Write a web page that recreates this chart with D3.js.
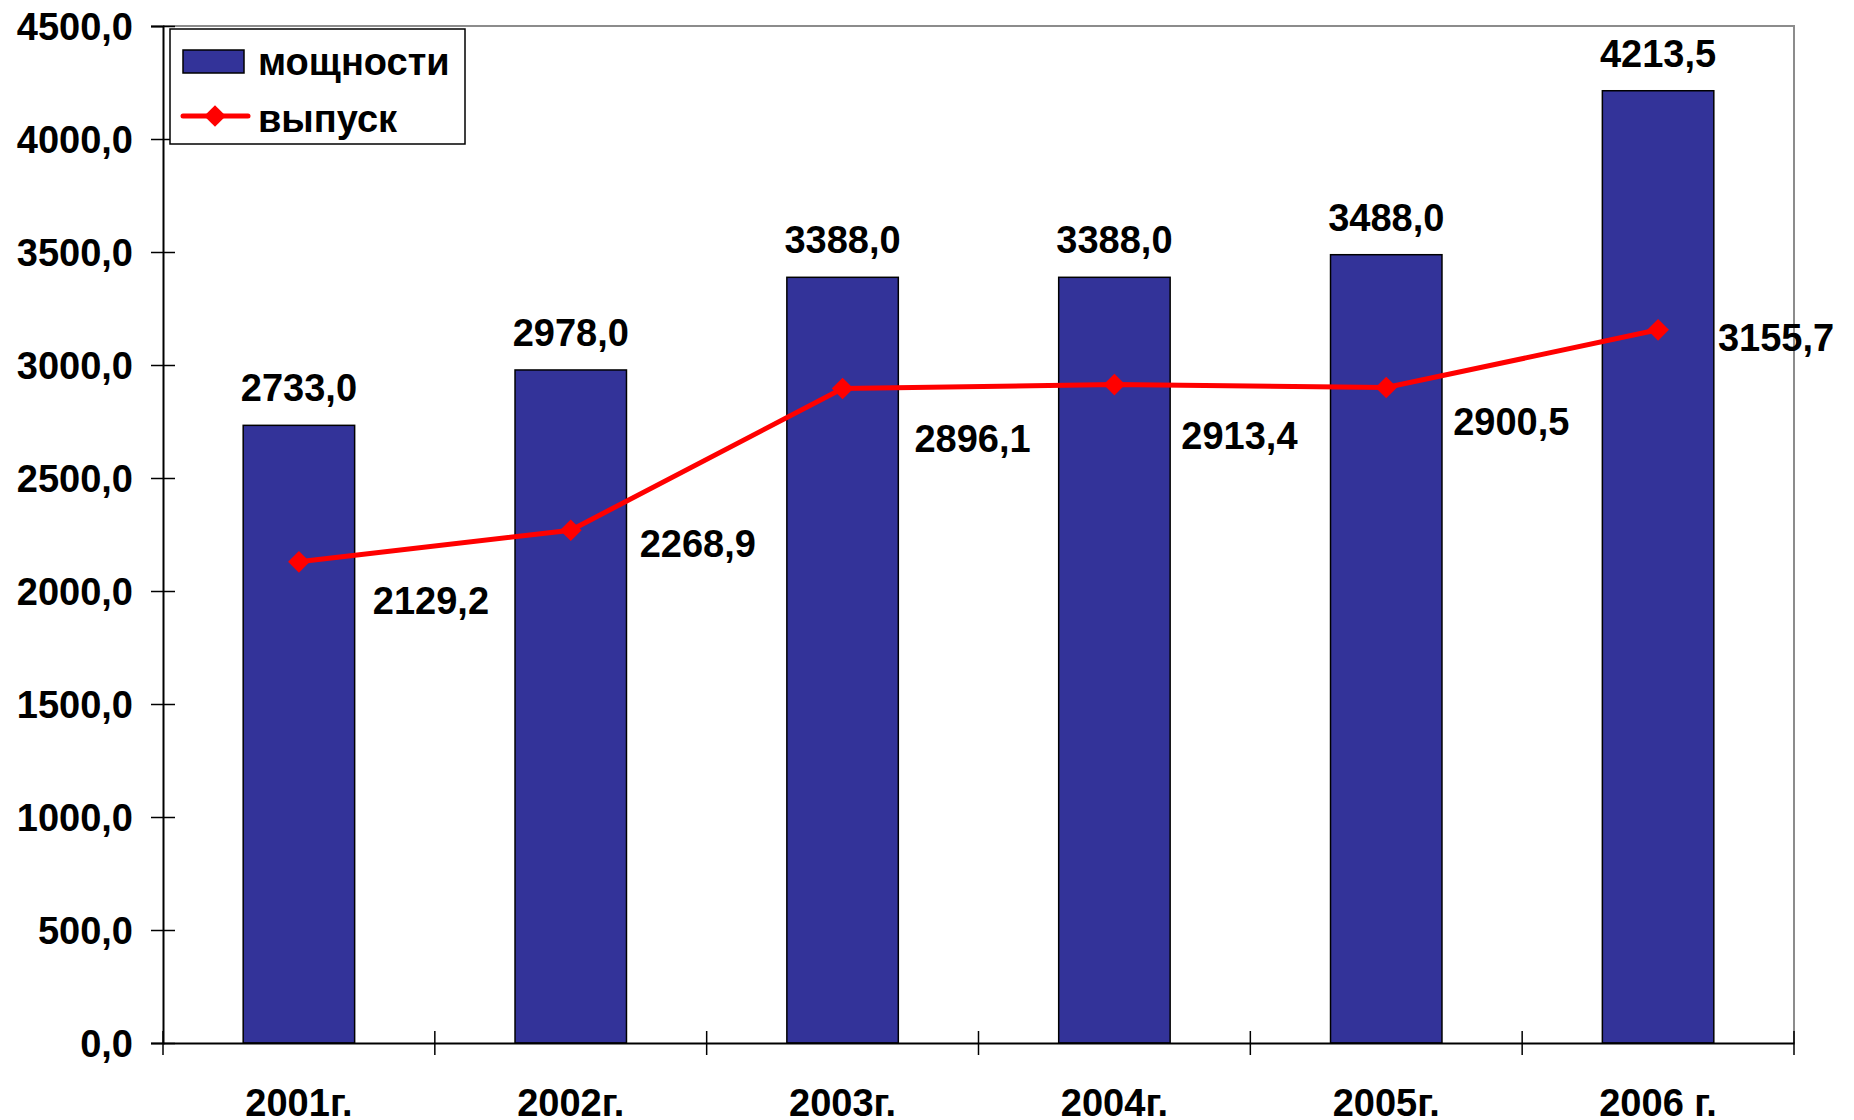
<!DOCTYPE html>
<html>
<head>
<meta charset="utf-8">
<script src="https://cdn.jsdelivr.net/npm/d3@7"></script>
<style>
  body { margin: 0; background: #fff; }
  text { font-family: "Liberation Sans", Arial, Helvetica, sans-serif; font-weight: bold; fill: #000; }
</style>
</head>
<body>
<script>
var w = 1854;
var h = 1120;

// data
var years = ["2001г.", "2002г.", "2003г.", "2004г.", "2005г.", "2006 г."];
var capacity = [2733.0, 2978.0, 3388.0, 3388.0, 3488.0, 4213.5];
var output = [2129.2, 2268.9, 2896.1, 2913.4, 2900.5, 3155.7];
var yTicks = [0, 500, 1000, 1500, 2000, 2500, 3000, 3500, 4000, 4500];
var seriesNames = ["мощности", "выпуск"];

// label nudges for the line values (px, layout only)
var outLabelShift = [[132, 39], [127, 13], [130, 50], [125, 51], [125, 34], [118, 8]];

var plotLeft = 163, plotRight = 1794, plotTop = 26, plotBottom = 1043;
var fs = 38;
var fmt = function(v) { return v.toFixed(1).replace(".", ","); };

var svg = d3.select("body").append("svg")
    .attr("width", w)
    .attr("height", h);

var xScale = d3.scaleBand()
    .domain(years)
    .range([plotLeft, plotRight])
    .padding(0);

var yScale = d3.scaleLinear()
    .domain([0, 4500])
    .range([plotBottom, plotTop]);

var barW = xScale.bandwidth() * 0.41;
var cx = function(i) { return xScale(years[i]) + xScale.bandwidth() / 2; };

// top & right frame (gray)
svg.append("path")
    .attr("d", "M" + plotLeft + "," + plotTop + "H" + plotRight + "V" + plotBottom)
    .attr("fill", "none")
    .attr("stroke", "#8c8c8c")
    .attr("stroke-width", 2);

// bars
svg.selectAll("rect.bar")
    .data(capacity)
    .enter()
    .append("rect")
    .attr("class", "bar")
    .attr("x", function(d, i) { return cx(i) - barW / 2; })
    .attr("y", function(d) { return yScale(d); })
    .attr("width", barW)
    .attr("height", function(d) { return plotBottom - yScale(d); })
    .attr("fill", "#333399")
    .attr("stroke", "#000")
    .attr("stroke-width", 1.5);

// Y axis
var yAxis = d3.axisLeft(yScale)
    .tickValues(yTicks)
    .tickSize(12)
    .tickPadding(18)
    .tickFormat(fmt);
var gy = svg.append("g")
    .attr("transform", "translate(" + plotLeft + ",0)")
    .call(yAxis);
gy.select(".domain").attr("stroke", "#000").attr("stroke-width", 2);
gy.selectAll(".tick line").attr("stroke", "#000").attr("stroke-width", 1.5).attr("x2", -12).attr("x1", 12);
gy.selectAll(".tick text")
    .attr("font-size", fs)
    .attr("font-family", "Liberation Sans, Arial, sans-serif")
    .attr("font-weight", "bold")
    .attr("fill", "#000")
    .attr("dy", "0.36em");

// X axis
var xAxis = d3.axisBottom(xScale).tickSize(0).tickPadding(0);
var gx = svg.append("g")
    .attr("transform", "translate(0," + plotBottom + ")")
    .call(xAxis);
gx.select(".domain").attr("stroke", "#000").attr("stroke-width", 2);
gx.selectAll(".tick text")
    .attr("font-size", fs)
    .attr("font-family", "Liberation Sans, Arial, sans-serif")
    .attr("font-weight", "bold")
    .attr("fill", "#000")
    .attr("y", 73)
    .attr("dy", 0);

// category boundary ticks (cross the axis)
var bounds = years.map(function(d) { return xScale(d); }).concat([plotRight]);
gx.selectAll("line.bound")
    .data(bounds)
    .enter()
    .append("line")
    .attr("class", "bound")
    .attr("x1", function(d) { return d; })
    .attr("x2", function(d) { return d; })
    .attr("y1", -12)
    .attr("y2", 12)
    .attr("stroke", "#000")
    .attr("stroke-width", 1.5);

// bar value labels
svg.selectAll("text.barlab")
    .data(capacity)
    .enter()
    .append("text")
    .attr("class", "barlab")
    .attr("x", function(d, i) { return cx(i); })
    .attr("y", function(d) { return yScale(d) - 24; })
    .attr("text-anchor", "middle")
    .attr("font-size", fs)
    .text(fmt);

// line
var line = d3.line()
    .x(function(d, i) { return cx(i); })
    .y(function(d) { return yScale(d); });

svg.append("path")
    .datum(output)
    .attr("d", line)
    .attr("fill", "none")
    .attr("stroke", "#ff0000")
    .attr("stroke-width", 5);

var diamond = d3.symbol().type(d3.symbolDiamond2).size(300);
svg.selectAll("path.marker")
    .data(output)
    .enter()
    .append("path")
    .attr("class", "marker")
    .attr("d", diamond)
    .attr("transform", function(d, i) { return "translate(" + cx(i) + "," + yScale(d) + ")"; })
    .attr("fill", "#ff0000");

// line value labels
svg.selectAll("text.linelab")
    .data(output)
    .enter()
    .append("text")
    .attr("class", "linelab")
    .attr("x", function(d, i) { return cx(i) + outLabelShift[i][0]; })
    .attr("y", function(d, i) { return yScale(d) + outLabelShift[i][1]; })
    .attr("dy", "0.36em")
    .attr("text-anchor", "middle")
    .attr("font-size", fs)
    .text(fmt);

// legend
var lg = svg.append("g").attr("transform", "translate(170,29)");
lg.append("rect")
    .attr("width", 295)
    .attr("height", 115)
    .attr("fill", "#fff")
    .attr("stroke", "#000")
    .attr("stroke-width", 1.5);
lg.append("rect")
    .attr("x", 13)
    .attr("y", 21)
    .attr("width", 61)
    .attr("height", 23)
    .attr("fill", "#333399")
    .attr("stroke", "#000")
    .attr("stroke-width", 1.5);
lg.append("text")
    .attr("x", 88)
    .attr("y", 46)
    .attr("font-size", fs)
    .text(seriesNames[0]);
lg.append("line")
    .attr("x1", 13)
    .attr("x2", 78)
    .attr("y1", 87)
    .attr("y2", 87)
    .attr("stroke", "#ff0000")
    .attr("stroke-width", 5)
    .attr("stroke-linecap", "round");
lg.append("path")
    .attr("d", diamond)
    .attr("transform", "translate(45,87)")
    .attr("fill", "#ff0000");
lg.append("text")
    .attr("x", 88)
    .attr("y", 103)
    .attr("font-size", fs)
    .text(seriesNames[1]);
</script>
</body>
</html>
